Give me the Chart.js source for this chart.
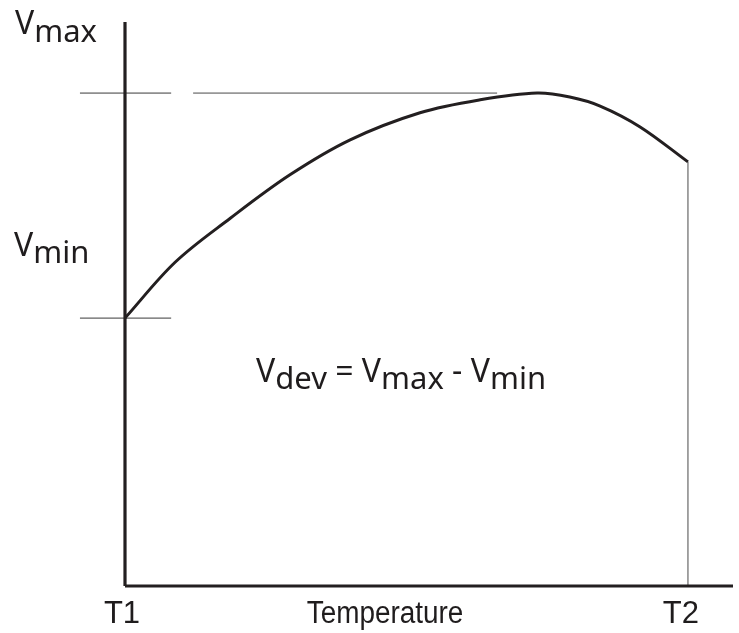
<!DOCTYPE html>
<html>
<head>
<meta charset="utf-8">
<script src="https://cdn.jsdelivr.net/npm/chart.js@4.4.1/dist/chart.umd.min.js"></script>
<style>
  body { margin: 0; background: #fff; }
  #wrap { width: 739px; height: 633px; }
</style>
</head>
<body>
<div id="wrap"><canvas id="myChart" width="739" height="633"></canvas></div>
<script>
// temperature axis: T1 = 0, T2 = 100
const tempX = [0, 8.9, 18.7, 29.3, 40.0, 52.4, 63.1, 73.2, 79.0, 84.4, 91.5, 100];
const voltY = [47.5, 57.4, 65.2, 72.9, 79.1, 83.9, 86.2, 87.4, 86.7, 85.1, 81.4, 75.2];

const vMax = 87.4;
const vMin = 47.5;
const t1 = 0;
const t2 = 100;

// little marker lines at Vmax / Vmin (x ranges)
const vMaxTick = [-8, 8.2];
const vMaxGuide = [12.1, 66.1];
const vMinTick = [-8, 8.2];

const xMax = 108;
const yMax = 100;

const ink = '#231f20';

function seg(x0, y0, x1, y1) {
    return [{x: x0, y: y0}, {x: x1, y: y1}];
}

function drawParts(ctx, x, y, parts, size, subSize, subDrop) {
    ctx.textAlign = 'left';
    ctx.textBaseline = 'alphabetic';
    for (let p of parts) {
        let s = p[1] ? subSize : size;
        ctx.font = s + 'px "Noto Sans"';
        ctx.fillText(p[0], x, p[1] ? y + subDrop : y);
        x += ctx.measureText(p[0]).width;
    }
}

const labelsPlugin = {
    id: 'labels',
    afterDraw(chart) {
        const ctx = chart.ctx;
        const xs = chart.scales.x;
        ctx.save();
        ctx.fillStyle = '#1f1c1d';

        drawParts(ctx, 15, 34, [['V', false], ['max', true]], 32, 31, 8);
        drawParts(ctx, 14, 256, [['V', false], ['min', true]], 32, 31, 7);
        drawParts(ctx, 256, 382,
            [['V', false], ['dev', true], [' = V', false], ['max', true], [' - V', false], ['min', true]],
            32, 31, 7);

        ctx.font = '31px "Liberation Sans"';
        ctx.textAlign = 'center';
        ctx.fillText('T1', xs.getPixelForValue(t1) - 3, 623);
        ctx.fillText('T2', xs.getPixelForValue(t2) - 7, 623);

        // condensed axis title
        ctx.translate(385, 623);
        ctx.scale(0.9, 1);
        ctx.fillText('Temperature', 0, 0);
        ctx.restore();
    }
};

const ctx = document.getElementById('myChart').getContext('2d');
const myChart = new Chart(ctx, {
    type: 'scatter',
    data: {
        datasets: [
            {
                // y axis line
                data: seg(0, 0, 0, yMax),
                borderColor: ink, borderWidth: 3.2, clip: false
            },
            {
                // x axis line
                data: seg(0, 0, xMax, 0),
                borderColor: ink, borderWidth: 3.2, clip: false
            },
            {
                data: tempX.map((x, i) => ({x: x, y: voltY[i]})),
                borderColor: ink, borderWidth: 3, tension: 0.35, clip: false
            },
            {
                data: seg(vMaxTick[0], vMax, vMaxTick[1], vMax),
                borderColor: '#3a3a3a', borderWidth: 1, clip: false
            },
            {
                data: seg(vMaxGuide[0], vMax, vMaxGuide[1], vMax),
                borderColor: '#4a4a4a', borderWidth: 1, clip: false
            },
            {
                data: seg(vMinTick[0], vMin, vMinTick[1], vMin),
                borderColor: '#3a3a3a', borderWidth: 1, clip: false
            },
            {
                data: seg(t2, 0, t2, voltY[voltY.length - 1]),
                borderColor: '#4a4a4a', borderWidth: 1, clip: false
            }
        ].map(d => Object.assign({showLine: true, pointRadius: 0, pointHoverRadius: 0}, d))
    },
    options: {
        responsive: false,
        animation: false,
        layout: { padding: { left: 125, right: 6, top: 22, bottom: 47 } },
        scales: {
            x: { type: 'linear', min: 0, max: xMax, display: false },
            y: { type: 'linear', min: 0, max: yMax, display: false }
        },
        plugins: {
            legend: { display: false },
            tooltip: { enabled: false }
        }
    },
    plugins: [labelsPlugin]
});
</script>
</body>
</html>
